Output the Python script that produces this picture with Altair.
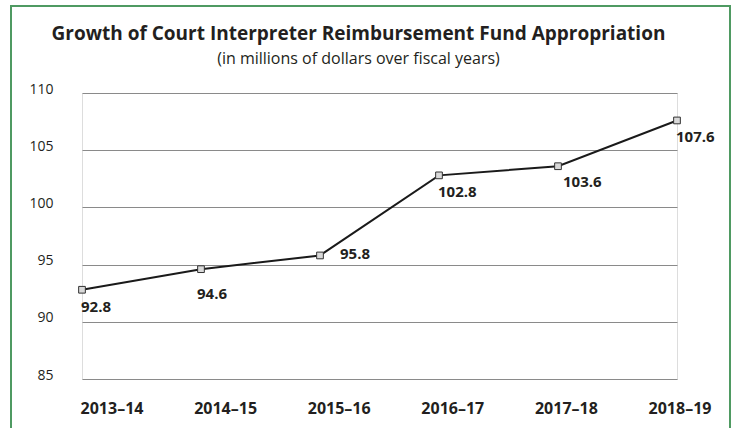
import altair as alt
import pandas as pd

years = ["2013–14", "2014–15", "2015–16", "2016–17", "2017–18", "2018–19"]
values = [92.8, 94.6, 95.8, 102.8, 103.6, 107.6]
y_ticks = [85, 90, 95, 100, 105, 110]

title_text = "Growth of Court Interpreter Reimbursement Fund Appropriation"
subtitle_text = "(in millions of dollars over fiscal years)"

df = pd.DataFrame({"year": years, "value": values})
df["label"] = [f"{v:.1f}" for v in values]

FONT = "Open Sans"
INK = "#231f20"
GREEN = "#4f9a62"
W, H = 595, 286

x_pts = alt.X("year:N", sort=years,
              scale=alt.Scale(type="point", padding=0),
              axis=None)
y_enc = alt.Y("value:Q",
              scale=alt.Scale(domain=[85, 110], nice=False, zero=False),
              axis=alt.Axis(values=y_ticks, title=None, grid=True, gridColor="#8a8a8a",
                            gridWidth=1, domain=False, ticks=False,
                            labelFont=FONT, labelFontSize=14, labelColor=INK,
                            labelPadding=29, labelBaseline="alphabetic",
                            labelOffset=0))

base = alt.Chart(df)

frame = base.mark_rect(fill=None, stroke=GREEN, strokeWidth=2).encode(
    x=alt.value(-71), x2=alt.value(648), y=alt.value(-87), y2=alt.value(360)
).transform_filter(alt.datum.year == years[0])

line = base.mark_line(color="#1a1a1a", strokeWidth=2).encode(x=x_pts, y=y_enc)
pts = base.mark_point(shape="square", filled=True, fill="#d9d9d9", stroke="#333333",
                      strokeWidth=1, size=45, opacity=1).encode(x=x_pts, y="value:Q")


def value_labels(sel, dx, dy):
    return base.mark_text(font=FONT, fontSize=15, fontWeight="bold", color=INK,
                          align="left", baseline="alphabetic", dx=dx, dy=dy).encode(
        x=x_pts, y="value:Q", text="label:N"
    ).transform_filter(alt.FieldOneOfPredicate(field="year", oneOf=sel))


lab_default = value_labels(["2013–14", "2016–17", "2018–19"], -1, 22)
lab_a = value_labels(["2014–15"], -4, 30)
lab_b = value_labels(["2015–16"], 20, 4)
lab_c = value_labels(["2017–18"], 5, 21)

xlabels = base.mark_text(font=FONT, fontSize=16, fontWeight="bold", color=INK,
                         align="center", baseline="alphabetic", dy=35).encode(
    x=alt.X("year:N", sort=years,
            scale=alt.Scale(type="point", range=[30, 598], padding=0), axis=None),
    y=alt.value(H),
    text="year:N",
)

main = alt.layer(frame, line, pts, lab_default, lab_a, lab_b, lab_c)
chart = alt.layer(main, xlabels).resolve_scale(x="independent").properties(
    width=W, height=H,
    title=alt.TitleParams(
        text=title_text, subtitle=subtitle_text,
        anchor="middle", frame="group", dx=-21, offset=28, dy=90,
        font=FONT, fontSize=19, fontWeight="bold", color=INK,
        subtitleFont=FONT, subtitleFontSize=16, subtitleColor=INK,
        subtitlePadding=7,
    ),
    autosize=alt.AutoSizeParams(type="none"),
    padding={"left": 82, "top": 93, "right": 60, "bottom": 49},
).configure_view(stroke=None).configure(background="white")

chart.save("out.html", embed_options={"renderer": "svg", "actions": False})
